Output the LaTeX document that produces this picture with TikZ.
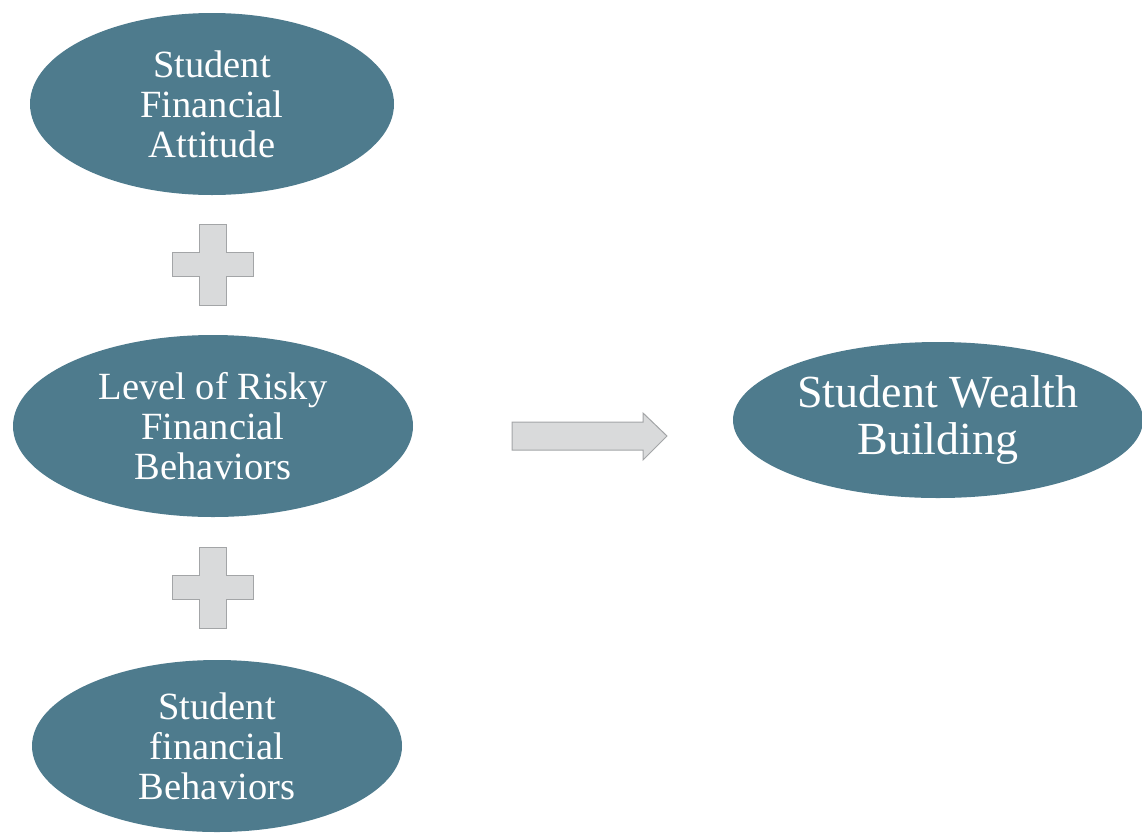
\documentclass[tikz,border=0pt]{standalone}
\usepackage{fontspec}
\setmainfont{Liberation Serif}
\usetikzlibrary{shapes.geometric}
\definecolor{slate}{HTML}{4E7B8D}
\definecolor{stone}{HTML}{D9DADB}
\definecolor{stoneedge}{HTML}{A3A5A7}
\begin{document}
\begin{tikzpicture}
  [x=1pt,y=-1pt,
   every node/.style={ellipse,fill=slate,text=white,inner sep=0pt,align=center,
     font=\fontsize{38.5}{40}\selectfont},
   plusmark/.style={fill=stone,draw=stoneedge,line width=1pt},
   blockarrow/.style={fill=stone,draw=stoneedge,line width=1pt}]
  \useasboundingbox (0,0) rectangle (1142,836);
  \node[minimum width=364pt,minimum height=182pt] (attitude) at (212,104) {Student\\Financial\\Attitude};
  \node[minimum width=400pt,minimum height=182pt] (risky) at (213,426) {Level of Risky\\Financial\\Behaviors};
  \node[minimum width=370pt,minimum height=172pt] (behav) at (217,746) {Student\\financial\\Behaviors};
  \node[minimum width=410pt,minimum height=156pt,font=\fontsize{46}{47}\selectfont] (wealth) at (938,420) {Student Wealth\\Building};
  % plus signs between the left ellipses
  \foreach \cy in {264,587}
    \draw[plusmark] (199,\cy-40) -- (226,\cy-40) -- (226,\cy-12) -- (253,\cy-12)
      -- (253,\cy+12) -- (226,\cy+12) -- (226,\cy+41) -- (199,\cy+41)
      -- (199,\cy+12) -- (172,\cy+12) -- (172,\cy-12) -- (199,\cy-12) -- cycle;
  % block arrow
  \draw[blockarrow] (512,422) -- (643,422) -- (643,413) -- (667,436)
    -- (643,460) -- (643,450) -- (512,450) -- cycle;
\end{tikzpicture}
\end{document}
